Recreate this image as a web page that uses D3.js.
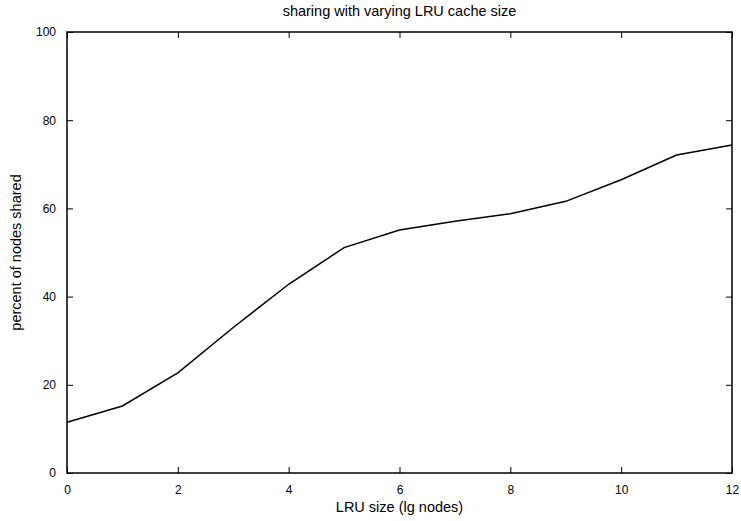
<!DOCTYPE html>
<html>
<head>
<meta charset="utf-8">
<script src="https://cdn.jsdelivr.net/npm/d3@7"></script>
<style>
  body { margin: 0; background: #fff; }
  svg text { font-family: "Liberation Sans", Arial, sans-serif; font-size: 12px; fill: #000; }
  svg text.label { font-size: 14.5px; }
</style>
</head>
<body>
<svg id="chart" width="741" height="521"></svg>
<script>
// values
const lruSize = [0, 1, 2, 3, 4, 5, 6, 7, 8, 9, 10, 11, 12];
const percentShared = [11.5, 15.2, 22.7, 33.0, 42.8, 51.1, 55.1, 57.1, 58.8, 61.6, 66.5, 72.1, 74.4];
const xTicks = [0, 2, 4, 6, 8, 10, 12];
const yTicks = [0, 20, 40, 60, 80, 100];

const W = 741, H = 521;
const margin = { top: 32, right: 9, bottom: 48, left: 67 };
const svg = d3.select('#chart');

const x = d3.scaleLinear().domain([0, 12]).range([margin.left, W - margin.right]);
const y = d3.scaleLinear().domain([0, 100]).range([H - margin.bottom, margin.top]);
const tick = 6;

// ticks on all four sides, pointing inward (gnuplot style)
svg.append('g')
  .attr('transform', `translate(0,${y(0)})`)
  .call(d3.axisBottom(x).tickValues(xTicks).tickSize(-tick).tickPadding(12))
  .call(g => g.select('.domain').remove());
svg.append('g')
  .attr('transform', `translate(0,${y(100)})`)
  .call(d3.axisTop(x).tickValues(xTicks).tickSize(-tick).tickFormat(''))
  .call(g => g.select('.domain').remove());
svg.append('g')
  .attr('transform', `translate(${x(0)},0)`)
  .call(d3.axisLeft(y).tickValues(yTicks).tickSize(-tick).tickPadding(11))
  .call(g => g.select('.domain').remove());
svg.append('g')
  .attr('transform', `translate(${x(12)},0)`)
  .call(d3.axisRight(y).tickValues(yTicks).tickSize(-tick).tickFormat(''))
  .call(g => g.select('.domain').remove());

svg.selectAll('.tick line').attr('stroke', '#000').attr('stroke-width', 1);
svg.selectAll('.tick text').style('font-size', '12px');

// frame
svg.append('rect')
  .attr('x', x(0)).attr('y', y(100))
  .attr('width', x(12) - x(0)).attr('height', y(0) - y(100))
  .attr('fill', 'none').attr('stroke', '#000').attr('stroke-width', 1.5);

// data line
const line = d3.line().x((d, i) => x(lruSize[i])).y(d => y(d));
svg.append('path')
  .datum(percentShared)
  .attr('d', line)
  .attr('fill', 'none')
  .attr('stroke', '#000')
  .attr('stroke-width', 1.5);

// labels
svg.append('text')
  .attr('class', 'label')
  .attr('x', (x(0) + x(12)) / 2).attr('y', 16)
  .attr('text-anchor', 'middle')
  .text('sharing with varying LRU cache size');
svg.append('text')
  .attr('class', 'label')
  .attr('x', (x(0) + x(12)) / 2).attr('y', 512)
  .attr('text-anchor', 'middle')
  .text('LRU size (lg nodes)');
svg.append('text')
  .attr('class', 'label')
  .attr('transform', `translate(21,${(y(0) + y(100)) / 2}) rotate(-90)`)
  .attr('text-anchor', 'middle')
  .text('percent of nodes shared');
</script>
</body>
</html>
